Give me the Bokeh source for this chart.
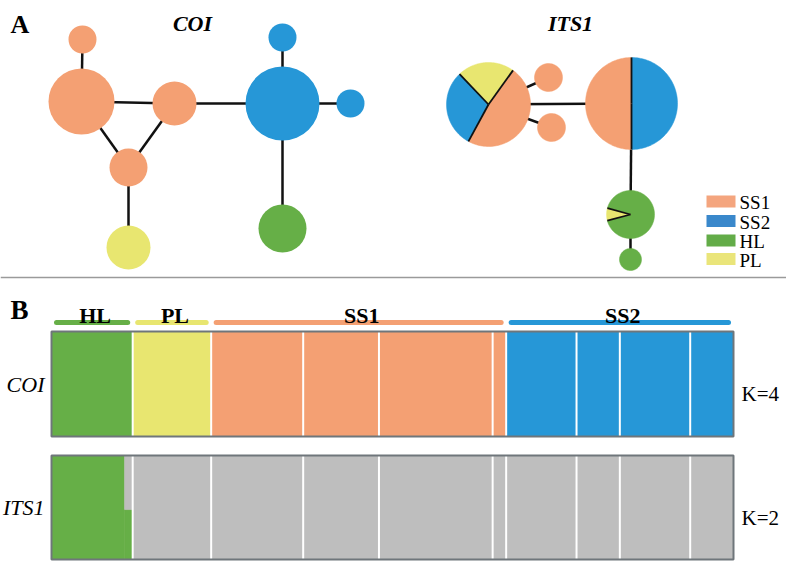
import numpy as np
from bokeh.plotting import figure
from bokeh.models import Range1d
from bokeh.embed import file_html
from bokeh.resources import INLINE
from bokeh.core.properties import value

# ---------------- colours ----------------
COL = {"SS1": "#F4A073", "SS2": "#2697D7", "HL": "#66AF47", "PL": "#E8E670", "GRAY": "#BEBEBE"}
LEG_COL = {"SS1": "#F4A57E", "SS2": "#3A88CB", "HL": "#63AC48", "PL": "#EAE57A"}
FONT = value("Liberation Serif")

# ---------------- panel A: COI haplotype network ----------------
coi_x = [82, 81, 174, 128, 128, 282, 282, 350, 282]
coi_y = [39, 101, 103, 167, 247, 103, 37, 103, 228]
coi_r = [14, 33, 22, 19, 22, 37, 14, 14, 24]
coi_grp = ["SS1", "SS1", "SS1", "SS1", "PL", "SS2", "SS2", "SS2", "HL"]
coi_edges = [(0, 1), (1, 2), (1, 3), (2, 3), (3, 4), (2, 5), (5, 6), (5, 7), (5, 8)]

# ---------------- panel A: ITS1 haplotype network ----------------
its_x = [488, 548, 551, 631, 630, 630]
its_y = [104, 77, 127, 103, 214, 259]
its_r = [42, 14, 14, 46, 24, 11]
its_groups = [["SS1", "PL", "SS2"], ["SS1"], ["SS1"], ["SS2", "SS1"], ["HL", "PL"], ["HL"]]
its_fracs = [[0.48, 0.22, 0.30], [1.0], [1.0], [0.5, 0.5], [0.915, 0.085], [1.0]]
its_start = [241.5, 0, 0, 270, 195, 0]
its_edges = [(0, 3), (0, 1), (0, 2), (3, 4), (4, 5)]

legend_labels = ["SS1", "SS2", "HL", "PL"]

# ---------------- panel B: STRUCTURE ----------------
pop_names = ["HL", "PL", "SS1a", "SS1b", "SS1c", "SS1d", "SS2a", "SS2b", "SS2c", "SS2d"]
pop_n = [30, 29, 34, 28, 42, 5, 26, 16, 26, 16]
pop_group = ["HL", "PL", "SS1", "SS1", "SS1", "SS1", "SS2", "SS2", "SS2", "SS2"]
group_names = ["HL", "PL", "SS1", "SS2"]

coi_clusters = ["HL", "PL", "SS1", "SS2"]            # K = 4
coi_pop_q = {"HL": [1, 0, 0, 0], "PL": [0, 1, 0, 0], "SS1": [0, 0, 1, 0], "SS2": [0, 0, 0, 1]}

its_clusters = ["HL", "GRAY"]                        # K = 2
its_green_hl = [1.0] * 27 + [0.48] * 3               # HL individuals
row_labels = ["COI", "ITS1"]
k_labels = ["K=4", "K=2"]

# ---------------- layout constants ----------------
BAR_L, BAR_R = 51, 733
ROWS = [(331, 436), (455, 559)]
W, H = 786, 561

p = figure(width=W, height=H, x_range=Range1d(0, W), y_range=Range1d(H, 0),
           output_backend="svg", toolbar_location=None, x_axis_type=None, y_axis_type=None,
           min_border=0)
p.grid.visible = False
p.outline_line_color = None
p.background_fill_color = "white"

# headings
p.text(x=[10], y=[24], text=["A"], text_font=FONT, text_font_size="26px",
       text_font_style="bold", text_baseline="alphabetic")
p.text(x=[10], y=[309], text=["B"], text_font=FONT, text_font_size="27px",
       text_font_style="bold", text_baseline="alphabetic")
p.text(x=[192, 570], y=[23, 23], text=["COI", "ITS1"], text_font=FONT, text_font_size="22px",
       text_font_style="bold italic", text_align="center", text_baseline="alphabetic")

# COI network
p.segment(x0=[coi_x[a] for a, b in coi_edges], y0=[coi_y[a] for a, b in coi_edges],
          x1=[coi_x[b] for a, b in coi_edges], y1=[coi_y[b] for a, b in coi_edges],
          line_color="#111111", line_width=2.5)
p.circle(x=coi_x, y=coi_y, radius=coi_r, fill_color=[COL[g] for g in coi_grp], line_color=None)

# ITS1 network
p.segment(x0=[its_x[a] for a, b in its_edges], y0=[its_y[a] for a, b in its_edges],
          x1=[its_x[b] for a, b in its_edges], y1=[its_y[b] for a, b in its_edges],
          line_color="#111111", line_width=2.5)
px, py, pc = [], [], []
bx0, by0, bx1, by1 = [], [], [], []
for cx, cy, r, grps, fr, st in zip(its_x, its_y, its_r, its_groups, its_fracs, its_start):
    a = st
    for g, f in zip(grps, fr):
        t = np.radians(np.linspace(a, a + f * 360, 80))
        xs = [cx] + list(cx + r * np.cos(t)) if f < 1 else list(cx + r * np.cos(t))
        ys = [cy] + list(cy - r * np.sin(t)) if f < 1 else list(cy - r * np.sin(t))
        px.append(xs); py.append(ys); pc.append(COL[g])
        if len(grps) > 1:
            bx0.append(cx); by0.append(cy)
            bx1.append(cx + r * np.cos(np.radians(a))); by1.append(cy - r * np.sin(np.radians(a)))
        a += f * 360
p.patches(xs=px, ys=py, fill_color=pc, line_color=pc, line_width=0.5)
p.segment(x0=bx0, y0=by0, x1=bx1, y1=by1, line_color="#111111", line_width=1.8)

# legend
leg_y = [201, 220.5, 240, 258.5]
p.quad(left=[706] * 4, right=[735] * 4, top=[y - 6 for y in leg_y], bottom=[y + 6 for y in leg_y],
       fill_color=[LEG_COL[g] for g in legend_labels], line_color=None)
p.text(x=[739] * 4, y=[y + 1 for y in leg_y], text=legend_labels, text_font=FONT,
       text_font_size="19px", text_baseline="middle")

# divider
p.segment(x0=[0], y0=[277], x1=[W], y1=[277], line_color="#9A9A9A", line_width=1.5)

# ---------------- STRUCTURE bars ----------------
N = sum(pop_n)
w = (BAR_R - BAR_L) / N
ind_group = [g for g, n in zip(pop_group, pop_n) for _ in range(n)]
coi_q = [coi_pop_q[g] for g in ind_group]
its_green = its_green_hl + [0.0] * (N - len(its_green_hl))
its_q = [[q, 1 - q] for q in its_green]

for (top, bot), qs, clusters in [(ROWS[0], coi_q, coi_clusters), (ROWS[1], its_q, its_clusters)]:
    # merge runs of individuals with identical membership to avoid seams
    runs = []
    for i, q in enumerate(qs):
        if runs and runs[-1][2] == list(q):
            runs[-1][1] = i + 1
        else:
            runs.append([i, i + 1, list(q)])
    L, R, T, B, C = [], [], [], [], []
    h = bot - top
    for i0, i1, q in runs:
        base = bot
        for c, v in zip(clusters, q):
            if v <= 0:
                continue
            L.append(BAR_L + i0 * w); R.append(BAR_L + i1 * w)
            B.append(base); T.append(base - v * h); C.append(COL[c])
            base -= v * h
    p.quad(left=L, right=R, top=T, bottom=B, fill_color=C, line_color=C, line_width=0.6)

# population separators
cum = np.cumsum(pop_n)[:-1]
sep_x = [BAR_L + c * w for c in cum]
for top, bot in ROWS:
    p.segment(x0=sep_x, y0=[top] * len(sep_x), x1=sep_x, y1=[bot] * len(sep_x),
              line_color="white", line_width=2)
    p.quad(left=[BAR_L], right=[BAR_R], top=[top], bottom=[bot], fill_color=None,
           line_color="#6F767B", line_width=2)

# group bars and labels
g_l, g_r = [], []
start = 0
for g in group_names:
    n = sum(pn for pn, pg in zip(pop_n, pop_group) if pg == g)
    g_l.append(BAR_L + start * w); g_r.append(BAR_L + (start + n) * w)
    start += n
p.segment(x0=[l + 5 for l in g_l], y0=[322] * 4, x1=[r - 5 for r in g_r], y1=[322] * 4,
          line_color=[COL[g] for g in group_names], line_width=5, line_cap="round")
p.text(x=[(l + r) / 2 + 3 for l, r in zip(g_l, g_r)], y=[315] * 4, text=group_names, text_font=FONT,
       text_font_size="22px", text_font_style="bold", text_align="center", text_baseline="alphabetic")

# row labels
p.text(x=[44, 44], y=[(t + b) / 2 for t, b in ROWS], text=row_labels, text_font=FONT,
       text_font_size="22px", text_font_style="italic", text_align="right", text_baseline="middle")
p.text(x=[741, 741], y=[(t + b) / 2 + 10 for t, b in ROWS], text=k_labels, text_font=FONT,
       text_font_size="21px", text_align="left", text_baseline="middle")

open("out.html", "w").write(file_html(p, INLINE))
